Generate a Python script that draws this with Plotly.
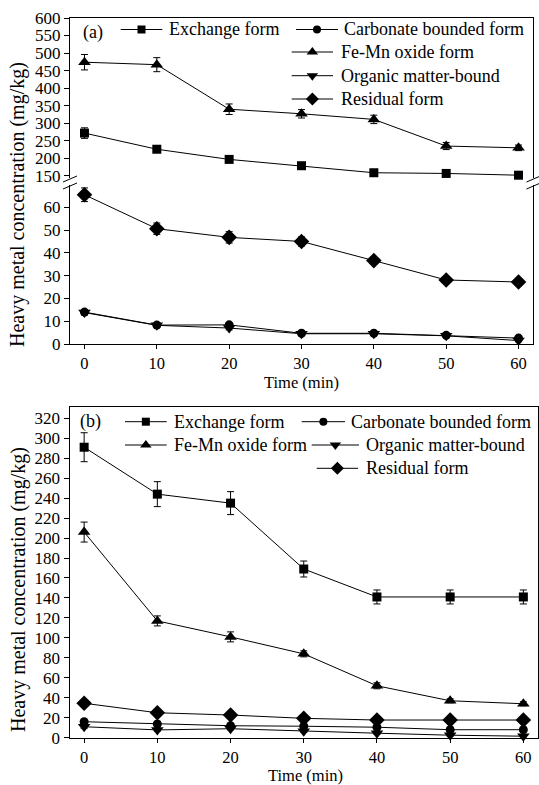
import plotly.graph_objects as go

# ---------------- data ----------------
time_min = [0, 10, 20, 30, 40, 50, 60]

# panel (a)
exchange_a = [272, 226, 197, 179, 159, 157, 152]
exchange_a_err = [15, 4, 4, 3, 3, 3, 3]
carbonate_a = [14.0, 8.3, 8.4, 4.7, 4.7, 3.8, 2.6]
carbonate_a_err = [1.0, 0.8, 0.8, 0.6, 0.6, 0.5, 0.5]
femn_a = [474, 467, 340, 327, 311, 235, 230]
femn_a_err = [22, 20, 15, 12, 12, 10, 8]
organic_a = [13.8, 8.2, 7.0, 4.5, 4.5, 3.6, 1.5]
organic_a_err = [1.0, 0.8, 0.8, 0.6, 0.6, 0.5, 0.5]
residual_a = [65.5, 50.6, 46.8, 45.0, 36.6, 28.1, 27.2]
residual_a_err = [3.0, 2.5, 2.5, 2.0, 1.5, 1.0, 1.0]

# panel (b)
exchange_b = [291, 244, 235, 169, 141, 141, 141]
exchange_b_err = [14.5, 12.5, 11.5, 8, 7, 7, 7]
carbonate_b = [16, 13.7, 12, 11.5, 10.5, 8, 8]
carbonate_b_err = [1.5, 1.5, 1.5, 1.2, 1.2, 1.0, 1.0]
femn_b = [206, 117, 101, 84, 52, 37, 34]
femn_b_err = [10, 5, 5, 3, 3, 2, 2]
organic_b = [11, 7.8, 9, 6.5, 4.5, 2.5, 1.5]
organic_b_err = [1.5, 1.2, 1.2, 1.0, 1.0, 0.8, 0.8]
residual_b = [34.5, 25, 22.7, 19.4, 17.7, 17.7, 17.7]
residual_b_err = [1.5, 1.5, 1.2, 1.2, 1.0, 1.0, 1.0]

series_names = ["Exchange form", "Carbonate bounded form", "Fe-Mn oxide form",
                "Organic matter-bound", "Residual form"]
x_ticks = [0, 10, 20, 30, 40, 50, 60]
y_ticks_a_upper = [150, 200, 250, 300, 350, 400, 450, 500, 550, 600]
y_ticks_a_lower = [0, 10, 20, 30, 40, 50, 60]
y_ticks_b = list(range(0, 321, 20))

# ---------------- style ----------------
W, H = 539, 785
FONT = "Liberation Serif"
TICK_SIZE = 17
XTICK_SIZE = 16.5
LEG_SIZE = 18
TITLE_SIZE = 20
XTITLE_SIZE = 16.5

symbols = ["square", "circle", "triangle-up", "triangle-down", "diamond"]
msizes = [9, 9, 11, 11, 12]
leg_msizes = [8, 8, 10, 10, 10]


def fx(px):
    return px / W


def fy(py):
    return 1 - py / H


fig = go.Figure()


def add_series(xa, ya, vals, errs, i):
    fig.add_trace(go.Scatter(
        x=time_min, y=vals, xaxis=xa, yaxis=ya, mode="lines+markers",
        line=dict(color="black", width=1),
        marker=dict(symbol=symbols[i], size=msizes[i], color="black"),
        error_y=dict(type="data", array=errs, visible=True, color="black",
                     thickness=1, width=3.5),
        showlegend=False, cliponaxis=False,
    ))


# panel (a) upper segment (y2 / x2): exchange & Fe-Mn
add_series("x2", "y2", exchange_a, exchange_a_err, 0)
add_series("x2", "y2", femn_a, femn_a_err, 2)
# panel (a) lower segment
add_series("x", "y", carbonate_a, carbonate_a_err, 1)
add_series("x", "y", organic_a, organic_a_err, 3)
add_series("x", "y", residual_a, residual_a_err, 4)
# panel (b)
b_data = [(exchange_b, exchange_b_err), (carbonate_b, carbonate_b_err),
          (femn_b, femn_b_err), (organic_b, organic_b_err),
          (residual_b, residual_b_err)]
for i, (v, e) in enumerate(b_data):
    add_series("x3", "y3", v, e, i)

# ---------------- manual legends (pixel overlay axis) ----------------
# (line x0, line x1, y, text x)
leg_a = [(120.7, 162.3, 29.5, 166.5), (296, 338, 29.5, 342.3),
         (291.7, 333, 52, 339), (291.7, 333, 75.7, 339), (291.7, 333, 99, 339)]
leg_b = [(125, 166.7, 421.7, 171.7), (301.7, 345, 421.7, 349.3),
         (125, 166.7, 445, 171.7), (311.7, 359, 445, 364),
         (316.7, 358, 468.3, 364)]
annotations = []
for leg in (leg_a, leg_b):
    for i, (x0, x1, yy, tx) in enumerate(leg):
        fig.add_trace(go.Scatter(x=[x0, x1], y=[yy, yy], xaxis="x9", yaxis="y9",
                                 mode="lines", line=dict(color="black", width=1),
                                 showlegend=False, hoverinfo="skip"))
        fig.add_trace(go.Scatter(x=[(x0 + x1) / 2], y=[yy], xaxis="x9", yaxis="y9",
                                 mode="markers",
                                 marker=dict(symbol=symbols[i], size=leg_msizes[i],
                                             color="black"),
                                 showlegend=False, hoverinfo="skip"))
        annotations.append(dict(x=fx(tx), y=fy(yy), xref="paper", yref="paper",
                                text=series_names[i], showarrow=False,
                                xanchor="left", yanchor="middle",
                                font=dict(family=FONT, size=LEG_SIZE, color="black")))

# panel labels and axis titles
annotations += [
    dict(x=fx(81), y=fy(33), xref="paper", yref="paper", text="(a)", showarrow=False,
         xanchor="left", yanchor="middle", font=dict(family=FONT, size=LEG_SIZE, color="black")),
    dict(x=fx(78), y=fy(421), xref="paper", yref="paper", text="(b)", showarrow=False,
         xanchor="left", yanchor="middle", font=dict(family=FONT, size=LEG_SIZE, color="black")),
    dict(x=fx(18), y=fy(205), xref="paper", yref="paper",
         text="Heavy metal concentration (mg/kg)", showarrow=False, textangle=-90,
         xanchor="center", yanchor="middle", font=dict(family=FONT, size=TITLE_SIZE, color="black")),
    dict(x=fx(18), y=fy(590), xref="paper", yref="paper",
         text="Heavy metal concentration (mg/kg)", showarrow=False, textangle=-90,
         xanchor="center", yanchor="middle", font=dict(family=FONT, size=TITLE_SIZE, color="black")),
    dict(x=fx(301), y=fy(382), xref="paper", yref="paper", text="Time (min)", showarrow=False,
         xanchor="center", yanchor="middle", borderpad=0,
         font=dict(family=FONT, size=XTITLE_SIZE, color="black")),
    dict(x=fx(305), y=fy(775.5), xref="paper", yref="paper", text="Time (min)", showarrow=False,
         xanchor="center", yanchor="middle", borderpad=0,
         font=dict(family=FONT, size=XTITLE_SIZE, color="black")),
]

# axis break marks
shapes = []
for (bx0, bx1) in [(63, 77), (526.5, 540.5)]:
    for dy in (0, 7):
        shapes.append(dict(type="line", xref="paper", yref="paper",
                           x0=fx(bx0), x1=fx(bx1), y0=fy(182 + dy), y1=fy(176 + dy),
                           line=dict(color="black", width=1)))

tick_font = dict(family=FONT, size=TICK_SIZE, color="black")
xtick_font = dict(family=FONT, size=XTICK_SIZE, color="black")
axis_common = dict(showgrid=False, zeroline=False, showline=True, linecolor="black",
                   linewidth=1, ticks="outside", ticklen=5, tickwidth=1,
                   tickcolor="black", tickfont=tick_font, automargin=False)
xaxis_common = dict(axis_common, ticklen=4, tickfont=xtick_font, ticklabelstandoff=0)

dom_a_x = [fx(70), fx(533)]
dom_b_x = [fx(69.5), fx(538)]

fig.update_layout(
    width=W, height=H, margin=dict(l=0, r=0, t=0, b=0),
    paper_bgcolor="white", plot_bgcolor="rgba(0,0,0,0)",
    showlegend=False,
    annotations=annotations, shapes=shapes,
    xaxis=dict(**xaxis_common, domain=dom_a_x, anchor="y", range=[-2, 62],
               tickvals=x_ticks),
    yaxis=dict(**axis_common, domain=[fy(344), fy(184.5)], anchor="x", range=[0, 70],
               tickvals=y_ticks_a_lower, mirror=True),
    xaxis2=dict(showgrid=False, zeroline=False, showline=True, linecolor="black",
                linewidth=1, domain=dom_a_x, anchor="y2", range=[-2, 62],
                side="top", showticklabels=False, ticks=""),
    yaxis2=dict(**axis_common, domain=[fy(178), fy(18)], anchor="x2", range=[144, 600],
                tickvals=y_ticks_a_upper, mirror=True),
    xaxis3=dict(**xaxis_common, domain=dom_b_x, anchor="y3", range=[-2, 62],
                tickvals=x_ticks, mirror=True),
    yaxis3=dict(**axis_common, domain=[fy(737.7), fy(407.3)], anchor="x3", range=[0, 331],
                tickvals=y_ticks_b, mirror=True),
    xaxis9=dict(domain=[0, 1], range=[0, W], visible=False, anchor="y9", fixedrange=True),
    yaxis9=dict(domain=[0, 1], range=[H, 0], visible=False, anchor="x9", fixedrange=True),
)

fig.write_html("out.html")
